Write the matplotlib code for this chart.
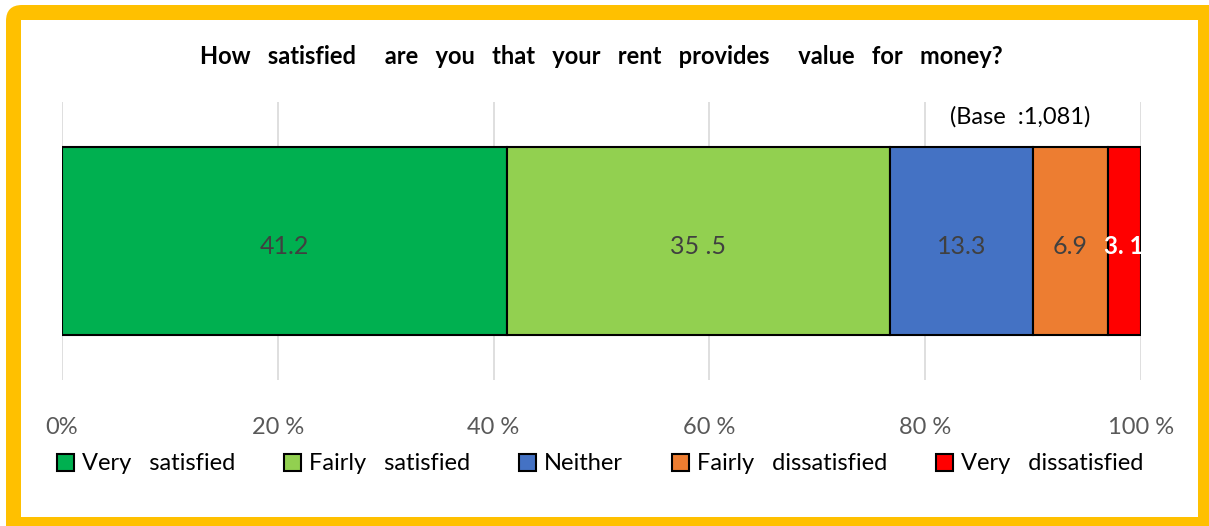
import matplotlib
matplotlib.use("Agg")
import matplotlib.pyplot as plt
from matplotlib.patches import FancyBboxPatch, Rectangle, Patch

categories = ["Very   satisfied", "Fairly   satisfied", "Neither", "Fairly   dissatisfied", "Very   dissatisfied"]
values = [41.2, 35.5, 13.3, 6.9, 3.1]
value_labels = ["41.2", "35 .5", "13.3", "6.9", "3. 1"]
colors = ["#00B050", "#92D050", "#4472C4", "#ED7D31", "#FF0000"]
label_colors = ["#404040", "#404040", "#404040", "#404040", "#FFFFFF"]
label_weights = ["normal", "normal", "normal", "normal", "bold"]
xticks = [0, 20, 40, 60, 80, 100]
xticklabels = ["0%", "20 %", "40 %", "60 %", "80 %", "100 %"]
title = "How   satisfied     are   you   that   your   rent   provides     value   for   money?"
base_text = "(Base  :1,081)"

plt.rcParams['font.family'] = ['Lato', 'DejaVu Sans']

W, H = 1209, 526
fig = plt.figure(figsize=(W / 100, H / 100), dpi=100)
fig.patch.set_facecolor("white")

# yellow frame: outer rounded yellow shape, inner white panel (display pixel coords)
outer = FancyBboxPatch((6, -40), W + 40 - 6, (H - 5) + 40,
                       boxstyle="round,pad=0,rounding_size=16",
                       transform=None, facecolor="#FFC000", edgecolor="none", zorder=-2)
inner = Rectangle((21, H - 517), 1198 - 21, 517 - 20, transform=None,
                  facecolor="white", edgecolor="none", zorder=-1)
fig.patches.extend([outer, inner])

ax = fig.add_axes([62 / W, 1 - 380 / H, (1141 - 62) / W, (380 - 102) / H])
ax.set_facecolor("none")
ax.set_xlim(0, 100)
ax.set_ylim(-0.5, 0.5)

left = 0
handles = []
for cat, v, c, lab, lc, lw in zip(categories, values, colors, value_labels, label_colors, label_weights):
    ax.barh(0, v, left=left, height=0.673, color=c, edgecolor="black", linewidth=1.5, zorder=3)
    ax.text(left + v / 2, -0.02, lab, ha="center", va="center",
            fontsize=17.5 if lw == "bold" else 18,
            color=lc, fontweight=lw, zorder=4)
    handles.append(Patch(facecolor=c, edgecolor="black", linewidth=1.5, label=cat))
    left += v

ax.set_xticks(xticks)
ax.set_xticklabels(xticklabels, fontsize=17, color="#595959")
ax.tick_params(axis="x", length=0, pad=27)
ax.set_yticks([])
ax.grid(axis="x", color="#D9D9D9", linewidth=1.2, zorder=0)
ax.set_axisbelow(True)
for s in ax.spines.values():
    s.set_visible(False)

ax.text((1020 - 62) / (1141 - 62), (380 - 117) / (380 - 102), base_text,
        transform=ax.transAxes, ha="center", va="center", fontsize=17, color="black")

fig.text(601 / W, 1 - 56 / H, title, ha="center", va="center", fontsize=17,
         fontweight="bold", color="black")

leg = fig.legend(handles=handles, loc="center left", bbox_to_anchor=(57 / W, 1 - 464 / H),
                 ncol=5, frameon=False, fontsize=17, handlelength=0.72, handleheight=0.72,
                 handletextpad=0.34, columnspacing=2.07, borderaxespad=0, borderpad=0)

fig.savefig("out.png", dpi=100, facecolor="white")
